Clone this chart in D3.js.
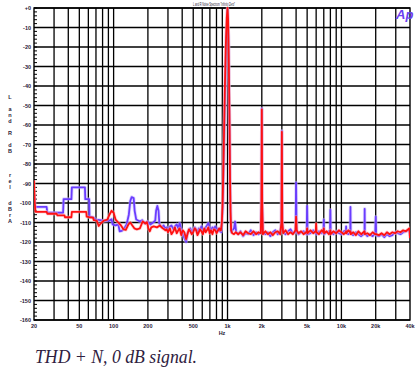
<!DOCTYPE html>
<html>
<head>
<meta charset="utf-8">
<script src="https://cdn.jsdelivr.net/npm/d3@7"></script>
<style>
  body { margin: 0; background: #fff; }
  svg { display: block; }
</style>
</head>
<body>
<div id="chart"></div>
<script>
// axis ticks and labels
const freqTicks = [20, 50, 100, 200, 500, 1000, 2000, 5000, 10000, 20000, 40000];
const freqTickLabels = ['20', '50', '100', '200', '500', '1k', '2k', '5k', '10k', '20k', '40k'];
const freqGrid = [30, 40, 50, 60, 70, 80, 90, 100, 200, 300, 400, 500, 600, 700, 800, 900,
    1000, 2000, 3000, 4000, 5000, 6000, 7000, 8000, 9000, 10000, 20000, 30000];
const dbTicks = [0, -10, -20, -30, -40, -50, -60, -70, -80, -90, -100, -110, -120, -130, -140, -150, -160];
const dbTickLabels = ['+0', '-10', '-20', '-30', '-40', '-50', '-60', '-70', '-80', '-90', '-100',
    '-110', '-120', '-130', '-140', '-150', '-160'];

// left channel (blue), [Hz, dB]
const blueLow = [[20,-95],[20.3,-101],[20.8,-102],[25.8,-102],[26.2,-105],[36,-105],[36.4,-98],[42.6,-98],
    [43,-92],[56,-92],[56.4,-98],[61,-98],[61.4,-107],[66,-107.3],[70,-108.5],[76,-108.8],[84,-109.2],
    [92,-109],[96,-108.3],[98,-111],[104,-111.5],[110,-111],[113,-114.5],[118,-114.3],[124,-113],
    [130,-111],[136,-106],[140,-99],[144,-97],[150,-97.5],[153,-104],[158,-108.5],[164,-109],[170,-109.5],
    [178,-108.8],[188,-110.5],[198,-109.5],[210,-111],[222,-110],[232,-109],[236,-104],[242,-101.5],
    [248,-104],[252,-110.5],[258,-112],[266,-112.5],[275,-111.5],[283,-113]];
const midFreqs = [292, 300, 312, 322, 335, 345, 358, 370, 380, 392, 405, 418, 433, 445, 458, 471, 485, 500,
    515, 530, 545, 560, 573, 590, 608, 625, 643, 660, 678, 697, 716, 737, 758, 780, 802, 825, 848, 865];
const blueMid = [-112.5, -114, -112, -111.5, -113.5, -112, -111, -113, -110.3, -113.5, -116, -118, -120,
    -115.5, -114, -113, -115, -114, -112.5, -113.5, -115, -113, -114, -112, -113.5, -114.5, -112.5, -111.5,
    -110.3, -113, -114, -112.5, -113.5, -112, -114, -113, -114.5, -114];
const bluePeak = [[880,-115],[910,-102],[940,-60],[975,-15],[1000,-0.5],[1020,-15],[1045,-70],[1065,-108],[1080,-115]];
const blueHigh = [[1100,-114],[1140,-113],[1165,-109.5],[1190,-115],[1240,-116],[1300,-114.5],[1370,-117],
    [1440,-115.5],[1520,-116],[1600,-114],[1690,-116.5],[1780,-115],[1870,-116],[1960,-115],[1985,-100],
    [2000,-51.5],[2015,-100],[2045,-115.5],[2150,-116],[2260,-115],[2380,-117],[2500,-115],[2630,-114],
    [2760,-116],[2900,-115],[2975,-110],[3000,-63],[3025,-110],[3080,-115],[3230,-116],[3400,-114.5],
    [3570,-113.5],[3750,-115.5],[3960,-115],[4000,-89.5],[4040,-115],[4200,-116],[4420,-115],[4650,-114.5],
    [4950,-116],[5000,-101.5],[5050,-116],[5350,-115.5],[5650,-114],[5950,-115.5],[6050,-116],[6350,-114.5],
    [6700,-115.5],[6950,-114.5],[7000,-108.5],[7050,-116],[7400,-115],[7750,-114.5],[7950,-115.5],
    [8000,-103.5],[8050,-115],[8500,-116],[9000,-114.5],[9500,-115.5],[10000,-116],[10500,-114.5],
    [10950,-114],[11000,-112],[11050,-115.5],[11500,-116],[11950,-115],[12000,-102],[12050,-115.5],
    [12700,-116.5],[13400,-115],[14100,-116],[14900,-117],[15600,-116],[15950,-116],[16000,-103],
    [16050,-115.5],[16900,-117],[17800,-116],[18800,-117],[19800,-115.5],[20000,-107],[20200,-116.5],
    [21300,-117],[22500,-116],[23800,-117.5],[25100,-116],[26500,-117],[28000,-116.5],[29600,-115],
    [31200,-115.5],[33000,-116],[34800,-115],[36700,-114.5],[38500,-114],[39600,-113.5],[40000,-117]];

// right channel (red), [Hz, dB]
const redLow = [[20,-88.5],[20.3,-100],[20.6,-104.5],[25.8,-104.5],[26.2,-105.5],[31.6,-105.5],[32,-106.3],
    [37,-106.3],[37.4,-107.3],[42.6,-107.3],[43,-104.5],[57.5,-104.5],[58,-107],[61,-107.3],[66,-107.5],
    [67,-108.8],[71,-109],[74,-111.8],[77,-110.5],[82,-109],[88,-108.5],[92,-106],[96,-104],[100,-105],
    [104,-108.5],[110,-110],[116,-111.5],[122,-113.5],[128,-113.8],[135,-111],[140,-110],[146,-111.5],
    [152,-113],[160,-113.5],[170,-113],[180,-109.5],[190,-110.5],[196,-109.8],[202,-113],[208,-114.5],
    [214,-112.5],[225,-112],[240,-112.5],[255,-111.5],[270,-113],[285,-114]];
const redMid = [-113.5, -115, -113, -116, -114.5, -112.5, -115.5, -114, -113, -116.5, -114, -115, -118.5,
    -116, -113.5, -114.5, -116, -115, -113, -114, -116.5, -115, -113.5, -114.5, -116, -113, -115, -114,
    -112.5, -115.5, -114, -116, -113.5, -114, -115.5, -114, -113, -114];
const redPeak = [[875,-114],[892,-110],[905,-100],[915,-88],[928,-70],[945,-45],[965,-20],[985,-5],[1000,0],
    [1012,-6],[1028,-30],[1042,-60],[1052,-88],[1062,-104],[1075,-114]];
const redHigh = [[1100,-115.5],[1140,-116],[1180,-115],[1240,-116],[1300,-115],[1370,-116.5],[1440,-114.5],
    [1520,-115.5],[1600,-116],[1690,-114.5],[1780,-116],[1870,-115],[1960,-115.5],[1985,-100],[2000,-52],
    [2015,-100],[2045,-116],[2150,-114.5],[2260,-116],[2380,-115],[2500,-116.5],[2630,-115],[2760,-114.5],
    [2900,-116],[2975,-110],[3000,-63.5],[3025,-110],[3080,-115.5],[3230,-114],[3400,-116],[3570,-115],
    [3750,-116],[3950,-114],[4000,-107],[4050,-114],[4200,-115.5],[4420,-114.5],[4650,-116],[4900,-115],
    [4960,-114.5],[5000,-113],[5040,-115.5],[5350,-114],[5650,-115.5],[5950,-114.5],[6000,-110.5],
    [6050,-115],[6350,-116],[6700,-114],[6950,-115],[7000,-113],[7050,-115.5],[7400,-114.5],[7750,-116],
    [7950,-115],[8000,-114],[8050,-116],[8500,-114.5],[9000,-115.5],[9500,-114],[10000,-115],[10500,-116],
    [10950,-115],[11000,-114.5],[11050,-115.5],[11500,-114],[11950,-115],[12000,-114.5],[12050,-116],
    [12700,-115],[13400,-116.5],[14100,-114.5],[14900,-116],[15600,-115],[15950,-114.5],[16050,-116],
    [16900,-115.5],[17800,-116.5],[18800,-115],[19800,-116],[20200,-116],[21300,-116.5],[22500,-115.5],
    [23800,-116.5],[25100,-115],[26500,-116],[28000,-115],[29600,-115.5],[31200,-114.5],[33000,-115],
    [34800,-114],[36700,-114.5],[38500,-113.5],[39600,-113],[40000,-118]];

(function() {
    const width = 420;
    const height = 372;
    const plot = {left: 34, right: 410, top: 8, bottom: 320};

    const x = d3.scaleLog().domain([20, 40000]).range([plot.left, plot.right]);
    const y = d3.scaleLinear().domain([0, -160]).range([plot.top, plot.bottom]);

    const svg = d3.select('#chart').append('svg')
        .attr('width', width)
        .attr('height', height)
        .style('font-family', 'Liberation Sans, Arial, sans-serif');

    svg.append('defs').append('clipPath').attr('id', 'plot-clip')
        .append('rect')
        .attr('x', plot.left).attr('y', plot.top - 1)
        .attr('width', plot.right - plot.left).attr('height', plot.bottom - plot.top + 1);

    // grid
    const grid = svg.append('g').attr('stroke', '#000').attr('stroke-width', 1.3);
    grid.selectAll('line.v').data(freqGrid).enter().append('line')
        .attr('class', 'v')
        .attr('x1', d => x(d)).attr('x2', d => x(d))
        .attr('y1', plot.top).attr('y2', plot.bottom);
    grid.selectAll('line.h').data(dbTicks).enter().append('line')
        .attr('class', 'h')
        .attr('x1', plot.left).attr('x2', plot.right)
        .attr('y1', d => y(d)).attr('y2', d => y(d));

    // minor ticks on the dB axis, every 2 dB
    grid.selectAll('line.m').data(y.ticks(80)).enter().append('line')
        .attr('class', 'm')
        .attr('x1', plot.left).attr('x2', plot.left + 3)
        .attr('y1', d => y(d)).attr('y2', d => y(d))
        .attr('stroke-width', 1);

    svg.append('rect')
        .attr('x', plot.left).attr('y', plot.top)
        .attr('width', plot.right - plot.left).attr('height', plot.bottom - plot.top)
        .attr('fill', 'none').attr('stroke', '#000').attr('stroke-width', 1.4);

    // tick labels
    svg.append('g').selectAll('text').data(dbTicks).enter().append('text')
        .attr('x', plot.left - 3)
        .attr('y', d => y(d) + 2)
        .attr('text-anchor', 'end')
        .attr('font-size', 5.5)
        .attr('font-weight', 'bold')
        .attr('fill', '#2a2038')
        .text((d, i) => dbTickLabels[i]);

    svg.append('g').selectAll('text').data(freqTicks).enter().append('text')
        .attr('x', d => x(d))
        .attr('y', plot.bottom + 8)
        .attr('text-anchor', 'middle')
        .attr('font-size', 5.5)
        .attr('font-weight', 'bold')
        .attr('fill', '#2a2038')
        .text((d, i) => freqTickLabels[i]);

    svg.append('text')
        .attr('x', 222).attr('y', 335)
        .attr('text-anchor', 'middle')
        .attr('font-size', 5.5).attr('font-weight', 'bold')
        .attr('fill', '#2a2038')
        .text('Hz');

    // vertical stacked axis title
    const stack = (str, y0) => {
        svg.append('g').selectAll('text').data(str.split('')).enter().append('text')
            .attr('x', 10)
            .attr('y', (d, i) => y0 + i * 6)
            .attr('text-anchor', 'middle')
            .attr('font-size', 5.5)
            .attr('font-weight', 'bold')
            .attr('fill', '#2a2038')
            .text(d => d);
    };
    stack('L and R dB', 99);
    stack('rel', 177);
    stack('dBrA', 205);

    svg.append('text')
        .attr('x', 214).attr('y', 6)
        .attr('text-anchor', 'middle')
        .attr('font-size', 5)
        .attr('textLength', 42)
        .attr('lengthAdjust', 'spacingAndGlyphs')
        .attr('fill', '#2a2038')
        .text('L and R Noise Spectrum "Infinity Zero"');

    svg.append('text')
        .attr('x', 396).attr('y', 19)
        .attr('font-size', 13)
        .attr('font-weight', 'bold')
        .attr('font-style', 'italic')
        .attr('fill', '#6a40f0')
        .text('Ap');

    // spectra
    const blueData = blueLow.concat(midFreqs.map((f, i) => [f, blueMid[i]]), bluePeak, blueHigh);
    const redData = redLow.concat(midFreqs.map((f, i) => [f, redMid[i]]), redPeak, redHigh);

    const line = d3.line()
        .x(d => x(d[0]))
        .y(d => y(d[1]));

    const traces = svg.append('g').attr('clip-path', 'url(#plot-clip)')
        .attr('fill', 'none')
        .attr('stroke-linejoin', 'round');

    traces.append('path').datum(blueData).attr('d', line)
        .attr('stroke', '#c0b0ff').attr('stroke-width', 3.5).attr('opacity', 0.5);
    traces.append('path').datum(blueData).attr('d', line)
        .attr('stroke', '#6a3cff').attr('stroke-width', 1.8);
    traces.append('path').datum(redData).attr('d', line)
        .attr('stroke', '#ffb0b8').attr('stroke-width', 3.5).attr('opacity', 0.5);
    traces.append('path').datum(redData).attr('d', line)
        .attr('stroke', '#ff1010').attr('stroke-width', 1.8);

    // caption
    svg.append('text')
        .attr('x', 35).attr('y', 363)
        .attr('font-family', 'Liberation Serif, Times New Roman, serif')
        .attr('font-style', 'italic')
        .attr('font-size', 18)
        .attr('textLength', 162)
        .attr('lengthAdjust', 'spacingAndGlyphs')
        .attr('fill', '#2e2040')
        .text('THD + N, 0 dB signal.');
})();
</script>
</body>
</html>
